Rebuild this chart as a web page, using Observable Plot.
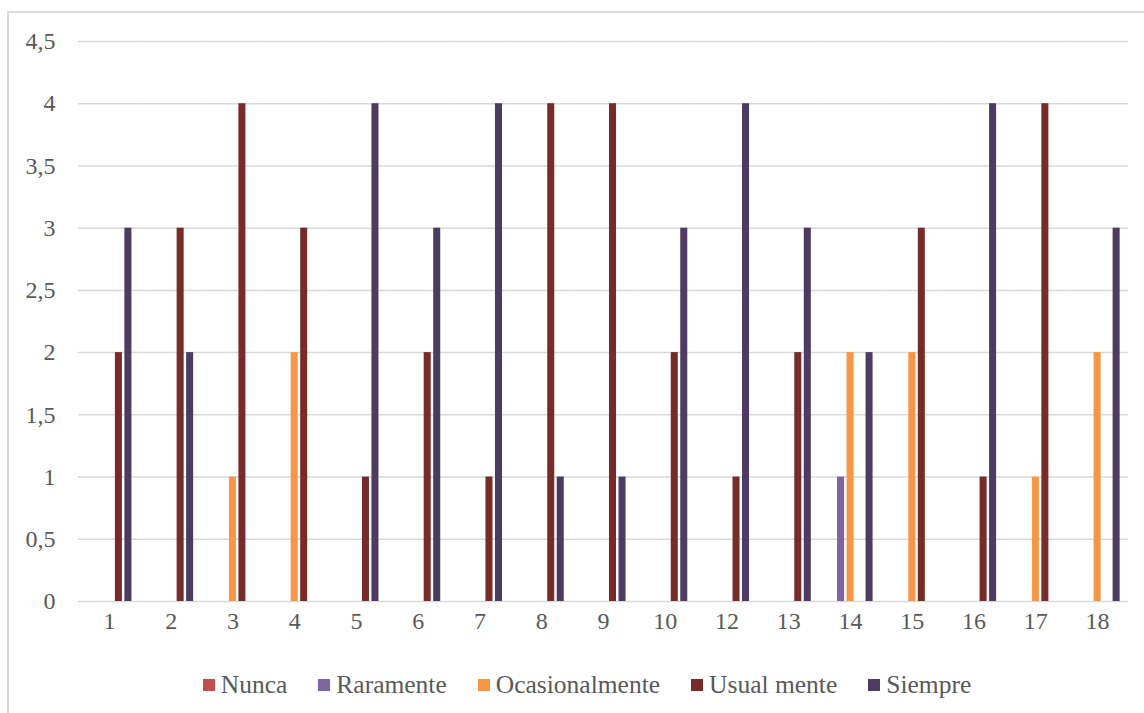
<!DOCTYPE html>
<html>
<head>
<meta charset="utf-8">
<script src="https://cdn.jsdelivr.net/npm/d3@7"></script>
<script src="https://cdn.jsdelivr.net/npm/@observablehq/plot@0.6"></script>
<style>
  html, body { margin: 0; padding: 0; background: #fff; overflow: hidden; }
  body { width: 1144px; height: 713px; position: relative; font-family: "Liberation Serif", "DejaVu Serif", serif; }
  #frame { position: absolute; left: 7px; top: 11px; width: 1300px; height: 900px; border: 2px solid #d9d9d9; box-sizing: border-box; }
  #chart { position: absolute; left: 0; top: 0; }
  #legend { position: absolute; left: 0; top: 670px; width: 1174px; display: flex; justify-content: center; gap: 31px; color: #595959; font-size: 25.5px; line-height: 30px; }
  .item { display: flex; align-items: center; gap: 6px; white-space: nowrap; }
  .swatch { width: 12px; height: 12px; display: inline-block; }
</style>
</head>
<body>
<div id="frame"></div>
<div id="chart"></div>
<div id="legend"></div>
<script>
// Preguntas (la 11 no aparece)
const categorias = ["1", "2", "3", "4", "5", "6", "7", "8", "9", "10", "12", "13", "14", "15", "16", "17", "18"];
const series = ["Nunca", "Raramente", "Ocasionalmente", "Usual mente", "Siempre"];
const colores = ["#c0504d", "#8064a2", "#f79646", "#772c2a", "#4d3b62"];

// Respuestas por pregunta, una lista por serie
const nunca          = [0, 0, 0, 0, 0, 0, 0, 0, 0, 0, 0, 0, 0, 0, 0, 0, 0];
const raramente      = [0, 0, 0, 0, 0, 0, 0, 0, 0, 0, 0, 0, 1, 0, 0, 0, 0];
const ocasionalmente = [0, 0, 1, 2, 0, 0, 0, 0, 0, 0, 0, 0, 2, 2, 0, 1, 2];
const usualmente     = [2, 3, 4, 3, 1, 2, 1, 4, 4, 2, 1, 2, 0, 3, 1, 4, 0];
const siempre        = [3, 2, 0, 0, 4, 3, 4, 1, 1, 3, 4, 3, 2, 0, 4, 0, 3];

const ticksY = [0, 0.5, 1, 1.5, 2, 2.5, 3, 3.5, 4, 4.5];

const valores = [nunca, raramente, ocasionalmente, usualmente, siempre];
const datos = categorias.flatMap((c, i) =>
  series.map((s, j) => ({ categoria: c, serie: s, valor: valores[j][i] }))
);

// El gráfico termina justo donde acaba la cuadrícula
const chart = Plot.plot({
  width: 1128,
  height: 650,
  marginTop: 41,
  marginBottom: 49,
  marginLeft: 78,
  marginRight: 0,
  style: { fontFamily: "'Liberation Serif', 'DejaVu Serif', serif", fontSize: "24px", color: "#595959", background: "transparent" },
  fx: { domain: categorias, padding: 0, round: false, label: null, axis: "bottom", tickSize: 0, tickPadding: 10 },
  x: { domain: series, paddingInner: 0.26, paddingOuter: 0.88, round: false, axis: null },
  y: { domain: [0, 4.5], ticks: ticksY, tickFormat: d => String(d).replace(".", ","), tickSize: 0, tickPadding: 23, label: null },
  color: { domain: series, range: colores },
  marks: [
    Plot.ruleY(ticksY, { stroke: "#d9d9d9", strokeWidth: 1.5 }),
    Plot.barY(datos.filter(d => d.valor > 0), { fx: "categoria", x: "serie", y: "valor", fill: "serie" })
  ]
});
document.getElementById("chart").appendChild(chart);

// Leyenda
const legend = document.getElementById("legend");
series.forEach((s, i) => {
  const item = document.createElement("span");
  item.className = "item";
  const sw = document.createElement("span");
  sw.className = "swatch";
  sw.style.background = colores[i];
  const txt = document.createElement("span");
  txt.textContent = s;
  item.appendChild(sw);
  item.appendChild(txt);
  legend.appendChild(item);
});
</script>
</body>
</html>
